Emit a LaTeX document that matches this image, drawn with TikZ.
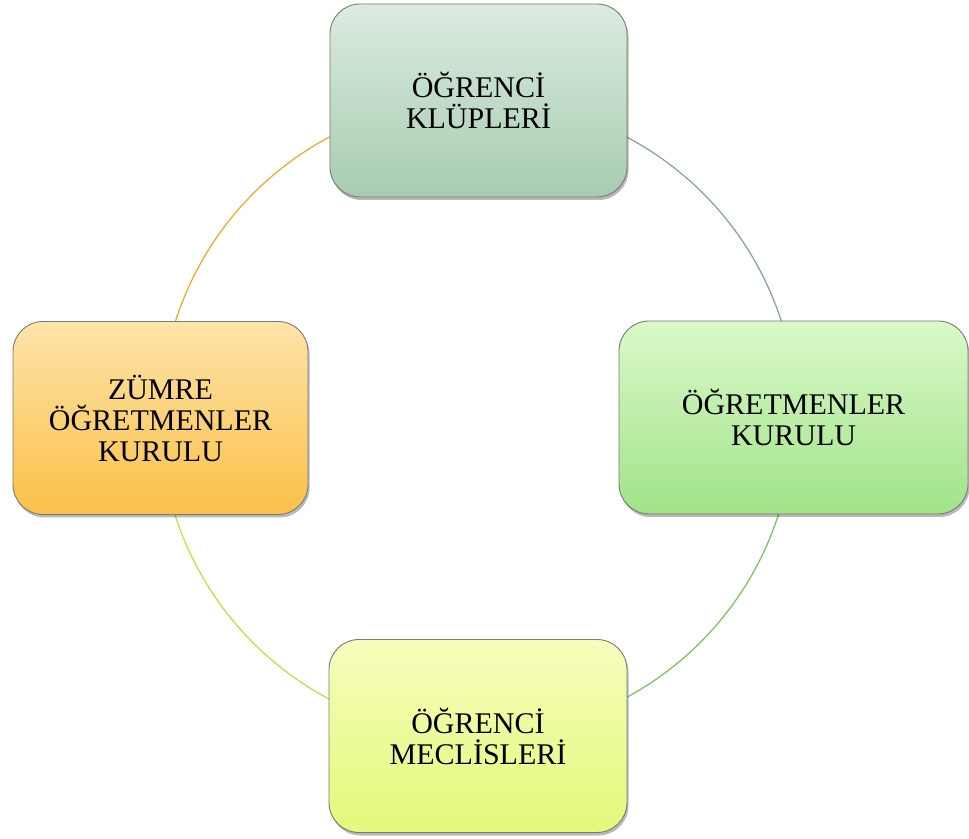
\documentclass[tikz,border=0pt]{standalone}
\usepackage{fontspec}
\setmainfont{Liberation Serif}
\usetikzlibrary{shadows}
\pgfdeclarelayer{background}
\pgfsetlayers{background,main}
\definecolor{tTop}{HTML}{DCEBE0}
\definecolor{tBot}{HTML}{A6CCB0}
\definecolor{rTop}{HTML}{DAF9CA}
\definecolor{rBot}{HTML}{A0E387}
\definecolor{lTop}{HTML}{FDE4A9}
\definecolor{lBot}{HTML}{FBC048}
\definecolor{bTop}{HTML}{F7FDBC}
\definecolor{bBot}{HTML}{E4F87A}
\definecolor{arcTR}{HTML}{7FA68B}
\definecolor{arcRB}{HTML}{78C257}
\definecolor{arcBL}{HTML}{C6DC3A}
\definecolor{arcLT}{HTML}{F6A623}
\definecolor{edge}{HTML}{7A7A72}
\tikzset{
  box/.style={rectangle, rounded corners=30pt, draw=edge, line width=0.9pt,
    minimum height=193pt, align=center, text=black,
    font=\fontsize{30}{31}\selectfont,
    drop shadow={shadow xshift=1.5pt, shadow yshift=-3pt, opacity=0.28, fill=black}},
  ring/.style={line width=1.2pt}
}
\begin{document}
\begin{tikzpicture}[x=1pt,y=1pt]
\useasboundingbox (0,0) rectangle (969,838);
\node[box, minimum width=297pt, top color=tTop, bottom color=tBot] (top) at (478.5,737.5) {ÖĞRENCİ\\KLÜPLERİ};
\node[box, minimum width=349pt, top color=rTop, bottom color=rBot] (right) at (793.5,420.5) {ÖĞRETMENLER\\KURULU};
\node[box, minimum width=295pt, top color=lTop, bottom color=lBot] (left) at (160.5,420) {ZÜMRE\\ÖĞRETMENLER\\KURULU};
\node[box, minimum width=298pt, top color=bTop, bottom color=bBot] (bottom) at (478,102) {ÖĞRENCİ\\MECLİSLERİ};
\begin{pgfonlayer}{background}
\draw[ring, arcTR] (top.center) arc[start angle=90, end angle=0, radius=318];
\draw[ring, arcRB] (right.center) arc[start angle=0, end angle=-90, radius=318];
\draw[ring, arcBL] (bottom.center) arc[start angle=-90, end angle=-180, radius=318];
\draw[ring, arcLT] (left.center) arc[start angle=180, end angle=90, radius=318];
\end{pgfonlayer}
\end{tikzpicture}
\end{document}
